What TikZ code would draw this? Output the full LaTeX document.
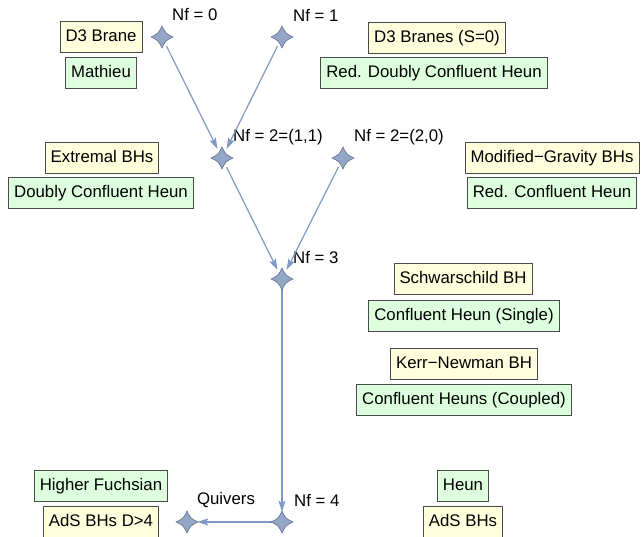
\documentclass[tikz,border=0pt]{standalone}
\usepackage{fontspec}
\setmainfont{Liberation Sans}
\usetikzlibrary{arrows.meta}
\definecolor{boxyel}{HTML}{FFFFDD}
\definecolor{boxgrn}{HTML}{DDFFDD}
\definecolor{boxline}{HTML}{4A4A4A}
\definecolor{edgecol}{HTML}{7F9AC2}
\definecolor{starfill}{HTML}{94A6C6}
\definecolor{starline}{HTML}{5F6E8C}
\newcommand\starpath[1]{\filldraw[fill=starfill, draw=starline, line width=0.6pt, shift={(#1)}]
  (0,-11) .. controls (3.6,-3.6) .. (11,0) .. controls (3.6,3.6) .. (0,11)
  .. controls (-3.6,3.6) .. (-11,0) .. controls (-3.6,-3.6) .. cycle;}
\begin{document}
\begin{tikzpicture}[x=1pt,y=-1pt,
  font=\fontsize{16.8}{19}\selectfont,
  lbox/.style={draw=boxline, line width=0.9pt, inner xsep=5.5pt, inner ysep=0pt,
    minimum height=30.5pt, text height=12pt, text depth=3.5pt},
  ybox/.style={lbox, fill=boxyel},
  gbox/.style={lbox, fill=boxgrn},
  starnode/.style={circle, minimum size=20pt, inner sep=0pt},
  nflab/.style={anchor=west, inner sep=0pt},
  flow/.style={draw=edgecol, line width=1.2pt, -{Stealth[length=11pt,width=7pt,inset=2pt]}}]
\useasboundingbox (0,0) rectangle (642,537);

% boxes
\node[ybox] (d3) at (101,37) {D3 Brane};
\node[gbox] (mat) at (101,73) {Mathieu};
\node[ybox] (d3s) at (437,38) {D3 Branes (S=0)};
\node[gbox] (rdch) at (434,73) {Red. Doubly Confluent Heun};
\node[ybox] (ext) at (102,158) {Extremal BHs};
\node[gbox] (dch) at (101,193) {Doubly Confluent Heun};
\node[ybox] (mg) at (552,158) {Modified−Gravity BHs};
\node[gbox] (rch) at (552,193) {Red. Confluent Heun};
\node[ybox] (sch) at (463,279) {Schwarschild BH};
\node[gbox] (chs) at (464,316) {Confluent Heun (Single)};
\node[ybox] (kn) at (464,364) {Kerr−Newman BH};
\node[gbox] (chc) at (464,400) {Confluent Heuns (Coupled)};
\node[gbox] (hf) at (101,486) {Higher Fuchsian};
\node[ybox] (ads4) at (101,522) {AdS BHs D>4};
\node[gbox] (heun) at (463,486) {Heun};
\node[ybox] (ads) at (463,522) {AdS BHs};

% star nodes
\node[starnode] (s0) at (162,37) {};
\node[starnode] (s1) at (282,37) {};
\node[starnode] (s2a) at (222,158) {};
\node[starnode] (s2b) at (343,158) {};
\node[starnode] (s3) at (282,279) {};
\node[starnode] (s4) at (282,522) {};
\node[starnode] (sq) at (187,522) {};

% labels
\node[nflab] (l0) at (172,15) {Nf = 0};
\node[nflab] (l1) at (293,15) {Nf = 1};
\node[nflab] (l2a) at (233,137) {Nf = 2=(1,1)};
\node[nflab] (l2b) at (354,137) {Nf = 2=(2,0)};
\node[nflab] (l3) at (293,258) {Nf = 3};
\node[nflab] (l4) at (294,500) {Nf = 4};
\node[inner sep=0pt] (lq) at (226,500) {Quivers};

% edges
\draw[flow] (s0) -- (s2a);
\draw[flow] (s1) -- (s2a);
\draw[flow] (s2a) -- (s3);
\draw[flow] (s2b) -- (s3);
\draw[flow] (s3) -- (s4);
\draw[flow] (s4) -- (sq);

% star shapes
\starpath{162,37}
\starpath{282,37}
\starpath{222,158}
\starpath{343,158}
\starpath{282,279}
\starpath{282,522}
\starpath{187,522}
\end{tikzpicture}
\end{document}
